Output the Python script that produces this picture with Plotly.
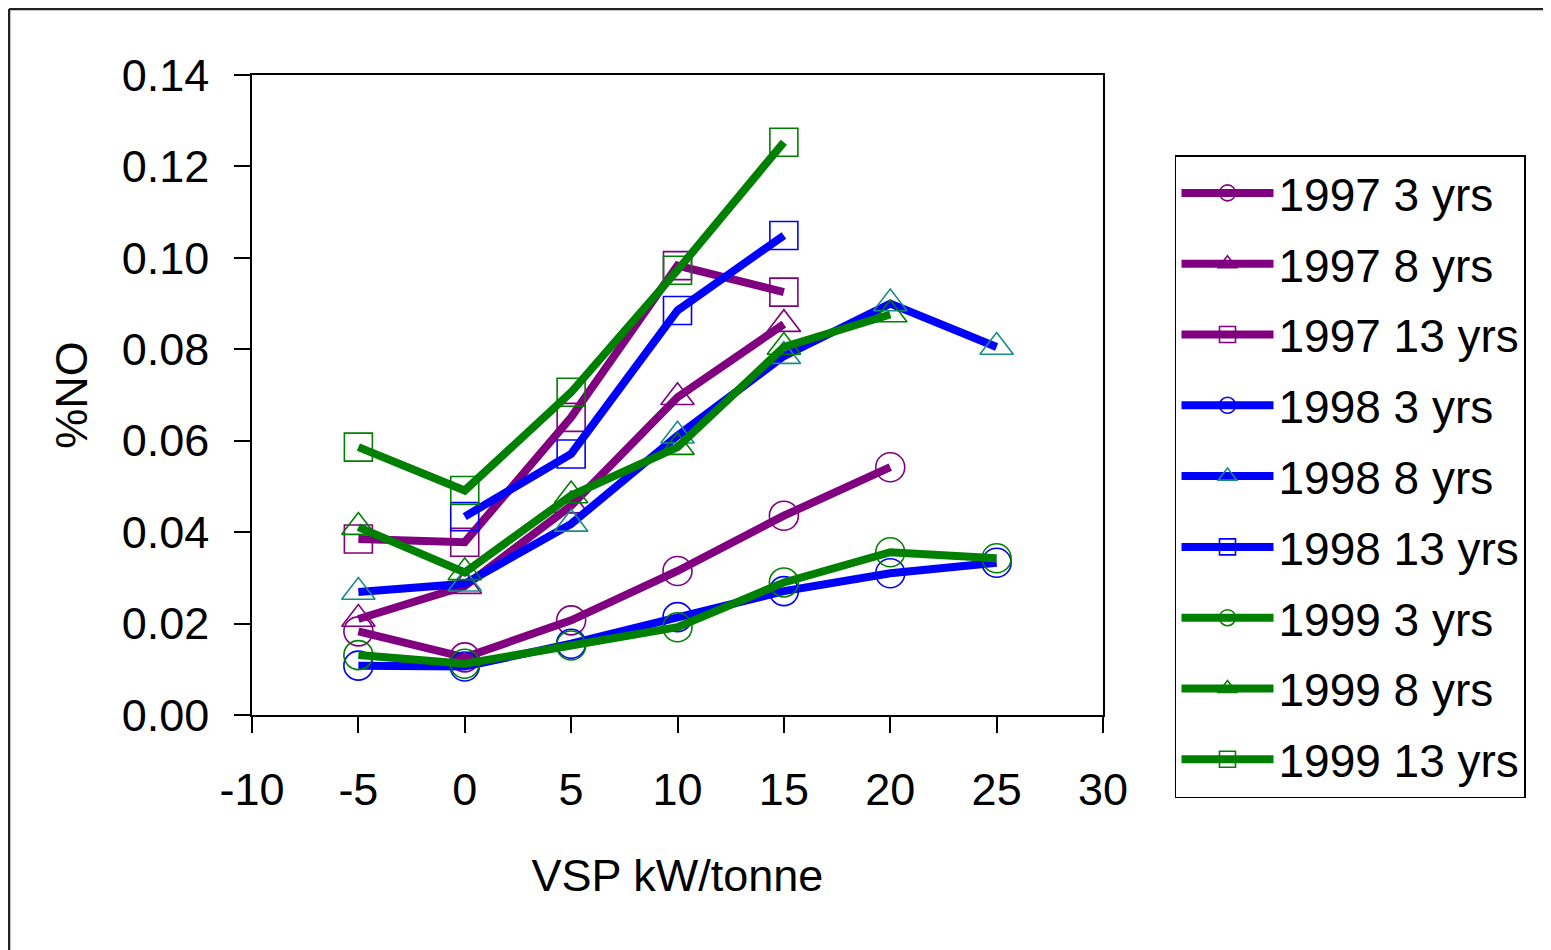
import plotly.graph_objects as go

vsp = [-5, 0, 5, 10, 15, 20, 25]

y1997_3 = [0.0183, 0.0126, 0.0207, 0.0315, 0.0436, 0.0542]
y1997_8 = [0.0210, 0.0282, 0.0458, 0.0695, 0.0855]
y1997_13 = [0.0385, 0.0378, 0.0651, 0.0983, 0.0925]
y1998_3 = [0.0108, 0.0106, 0.0156, 0.0214, 0.0271, 0.0310, 0.0333]
y1998_8 = [0.0269, 0.0287, 0.0418, 0.0611, 0.0785, 0.0900, 0.0805]
y1998_13 = [None, 0.0434, 0.0571, 0.0885, 0.1049]
y1999_3 = [0.0131, 0.0112, 0.0152, 0.0192, 0.0290, 0.0356, 0.0343]
y1999_8 = [0.0411, 0.0312, 0.0480, 0.0586, 0.0805, 0.0876]
y1999_13 = [0.0586, 0.0491, 0.0706, 0.0973, 0.1253]

series = [
    ("1997 3 yrs", y1997_3, "#800080", "#800080", "circle-open", 29),
    ("1997 8 yrs", y1997_8, "#800080", "#800080", "triangle-up-open", 29),
    ("1997 13 yrs", y1997_13, "#800080", "#800080", "square-open", 28),
    ("1998 3 yrs", y1998_3, "#0000FF", "#0000FF", "circle-open", 29),
    ("1998 8 yrs", y1998_8, "#0000FF", "#1A8A8A", "triangle-up-open", 29),
    ("1998 13 yrs", y1998_13, "#0000FF", "#0000FF", "square-open", 28),
    ("1999 3 yrs", y1999_3, "#008000", "#008000", "circle-open", 29),
    ("1999 8 yrs", y1999_8, "#008000", "#008000", "triangle-up-open", 29),
    ("1999 13 yrs", y1999_13, "#008000", "#008000", "square-open", 28),
]

x_ticks = [-10, -5, 0, 5, 10, 15, 20, 25, 30]
y_ticks = [0.00, 0.02, 0.04, 0.06, 0.08, 0.10, 0.12, 0.14]

FONT = "Liberation Sans, Arial, sans-serif"

fig = go.Figure()
for name, ys, lc, mc, sym, msize in series:
    fig.add_trace(go.Scatter(
        x=vsp[:len(ys)], y=ys, name=name, legendgroup=name,
        mode="lines+markers",
        line=dict(color=lc, width=8),
        marker=dict(symbol=sym, size=msize, color=mc, line=dict(color=mc, width=1.6)),
        connectgaps=False,
    ))

fig.update_layout(
    width=1543, height=942,
    margin=dict(l=244, r=448, t=67, b=235),
    paper_bgcolor="white", plot_bgcolor="white",
    font=dict(family=FONT, size=45, color="black"),
    showlegend=True,
    legend=dict(
        x=1.0846, y=0.875, xanchor="left", yanchor="top",
        bordercolor="black", borderwidth=1.5,
        font=dict(family=FONT, size=46, color="black"),
        itemwidth=92, traceorder="grouped", tracegroupgap=8,
        bgcolor="white", maxheight=760,
    ),
    xaxis=dict(
        range=[-10, 30], tickvals=x_ticks, ticktext=[str(v) for v in x_ticks],
        showgrid=False, zeroline=False, showline=True, linecolor="black", linewidth=1.5,
        mirror=True, ticks="outside", ticklen=16, tickwidth=1.5, tickcolor="black",
        ticklabelstandoff=18,
        title=dict(text="VSP kW/tonne", font=dict(family=FONT, size=45), standoff=46),
    ),
    yaxis=dict(
        range=[0, 0.14], tickvals=y_ticks, ticktext=[f"{v:.2f}" for v in y_ticks],
        showgrid=False, zeroline=False, showline=True, linecolor="black", linewidth=1.5,
        mirror=True, ticks="outside", ticklen=16, tickwidth=1.5, tickcolor="black",
        ticklabelstandoff=16,
        title=dict(text="%NO", font=dict(family=FONT, size=45), standoff=20),
    ),
    shapes=[
        dict(type="line", xref="paper", yref="paper", x0=-0.2855, x1=1.7, y0=1.1031, y1=1.1031,
             line=dict(color="#222222", width=2.5)),
        dict(type="line", xref="paper", yref="paper", x0=-0.2855, x1=-0.2855, y0=1.1031, y1=-0.5,
             line=dict(color="#222222", width=2.5)),
    ],
)

fig.write_html("out.html")
